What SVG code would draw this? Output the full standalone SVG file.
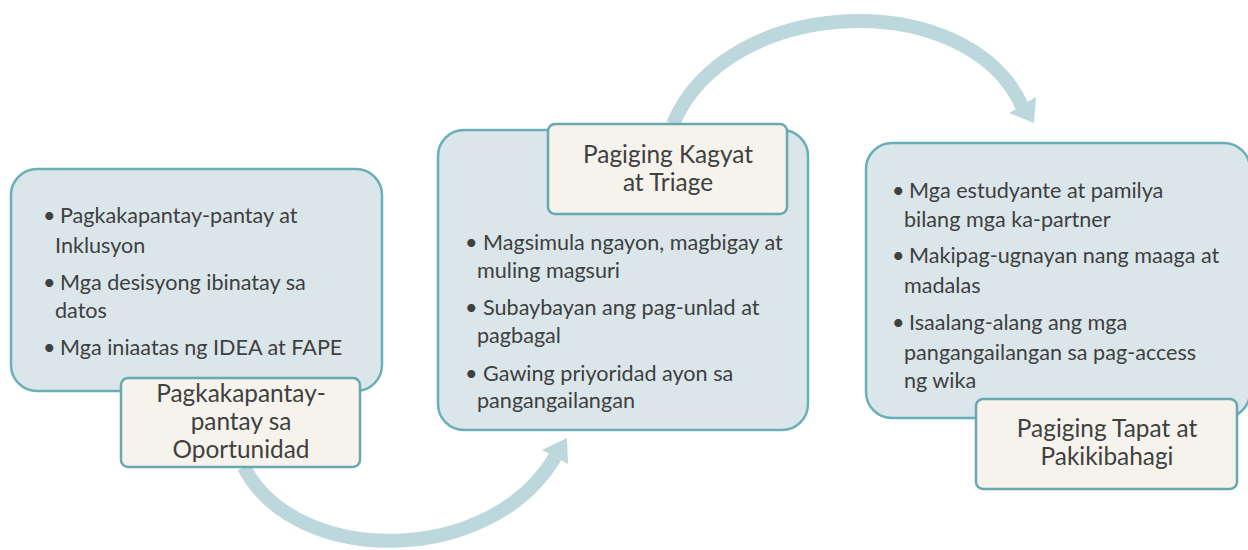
<svg xmlns="http://www.w3.org/2000/svg" width="1248" height="550" viewBox="0 0 1248 550">
<defs>
<style>
.box{fill:#dae6ea;stroke:#6aaeb8;stroke-width:2.5}
.lbl{fill:#f5f3ec;stroke:#6aa7b1;stroke-width:2.5}
.t{font-family:Lato,"Open Sans",sans-serif;font-size:21.6px;fill:#404040}
.lt{font-family:Lato,"Open Sans",sans-serif;font-size:24.4px;fill:#404040;text-anchor:middle}
.arc{fill:none;stroke:#bcd8dd;stroke-width:14}
.head{fill:#bcd8dd}
</style>
<clipPath id="clipTop"><rect x="0" y="13" width="1248" height="537"/></clipPath>
</defs>
<g id="connectors">
<path class="arc" d="M244,467 C295,567 490,567 555,457"/>
<polygon class="head" points="567,438 542,450 568,464"/>
<g clip-path="url(#clipTop)">
<path class="arc" d="M673,124 C728,-6 967,-14 1022,106"/>
</g>
<polygon class="head" points="1034,123 1009,113 1036,97"/>
</g>
<g id="node1">
<rect class="box" x="11" y="169" width="371" height="222" rx="26"/>
<text class="t" x="43" y="223">•</text>
<text class="t" x="60" y="223">Pagkakapantay-pantay at</text>
<text class="t" x="55" y="253">Inklusyon</text>
<text class="t" x="43" y="290">•</text>
<text class="t" x="60" y="290">Mga desisyong ibinatay sa</text>
<text class="t" x="55" y="318">datos</text>
<text class="t" x="43" y="355">•</text>
<text class="t" x="60" y="355">Mga iniaatas ng IDEA at FAPE</text>
</g>
<g id="label1">
<rect class="lbl" x="121" y="378" width="239" height="89" rx="7"/>
<text class="lt" x="241" y="402">Pagkakapantay-</text>
<text class="lt" x="241" y="430">pantay sa</text>
<text class="lt" x="241" y="458">Oportunidad</text>
</g>
<g id="node2">
<rect class="box" x="438" y="130" width="370" height="300" rx="26"/>
<text class="t" x="465" y="250">•</text>
<text class="t" x="483" y="250">Magsimula ngayon, magbigay at</text>
<text class="t" x="477" y="278">muling magsuri</text>
<text class="t" x="465" y="315">•</text>
<text class="t" x="483" y="315">Subaybayan ang pag-unlad at</text>
<text class="t" x="477" y="343">pagbagal</text>
<text class="t" x="465" y="381">•</text>
<text class="t" x="483" y="381">Gawing priyoridad ayon sa</text>
<text class="t" x="477" y="408">pangangailangan</text>
</g>
<g id="label2">
<rect class="lbl" x="548" y="124" width="239" height="90" rx="7"/>
<text class="lt" x="668" y="163">Pagiging Kagyat</text>
<text class="lt" x="668" y="191">at Triage</text>
</g>
<g id="node3">
<rect class="box" x="866" y="143" width="384" height="275" rx="26"/>
<text class="t" x="892" y="198">•</text>
<text class="t" x="909" y="198">Mga estudyante at pamilya</text>
<text class="t" x="904" y="227">bilang mga ka-partner</text>
<text class="t" x="892" y="263">•</text>
<text class="t" x="909" y="263">Makipag-ugnayan nang maaga at</text>
<text class="t" x="904" y="293">madalas</text>
<text class="t" x="892" y="330">•</text>
<text class="t" x="909" y="330">Isaalang-alang ang mga</text>
<text class="t" x="904" y="360">pangangailangan sa pag-access</text>
<text class="t" x="904" y="388">ng wika</text>
</g>
<g id="label3">
<rect class="lbl" x="976" y="399" width="261" height="90" rx="7"/>
<text class="lt" x="1107" y="437">Pagiging Tapat at</text>
<text class="lt" x="1107" y="465">Pakikibahagi</text>
</g>
</svg>
